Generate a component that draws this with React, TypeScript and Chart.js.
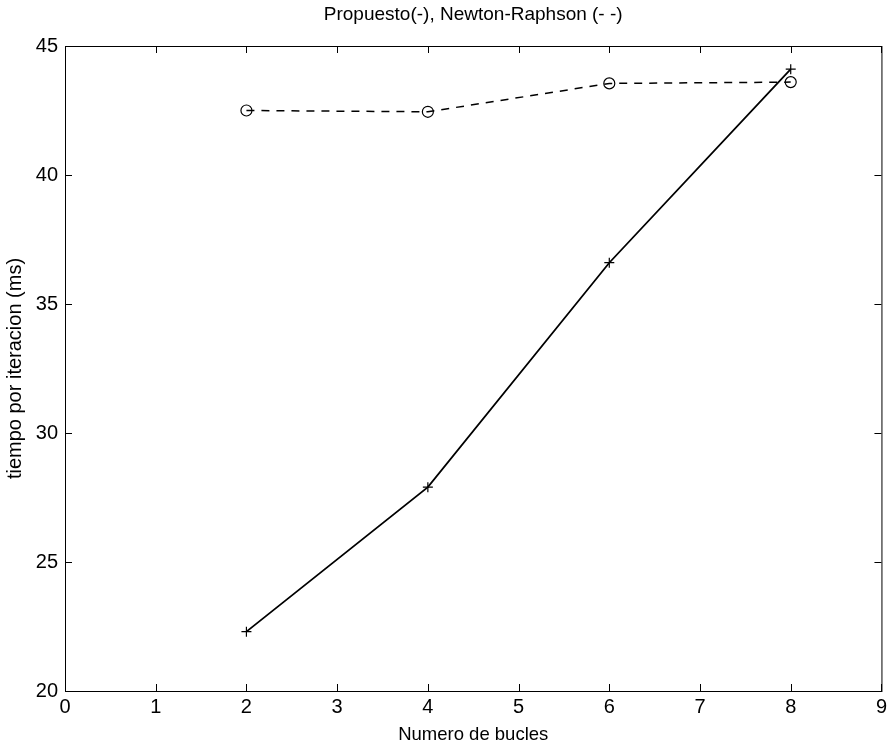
import React, { useEffect, useRef } from "react";
import { Chart, registerables } from "chart.js";

Chart.register(...registerables);

const bucles = [2, 4, 6, 8];
const propuesto = [22.3, 27.9, 36.6, 44.1];
const newtonRaphson = [42.5, 42.45, 43.55, 43.6];
const xTicks = [0, 1, 2, 3, 4, 5, 6, 7, 8, 9];
const yTicks = [20, 25, 30, 35, 40, 45];
const titleText = "Propuesto(-), Newton-Raphson (- -)";
const xLabel = "Numero de bucles";
const yLabel = "tiempo por iteracion (ms)";

const FONT = "'Liberation Sans', Arial, Helvetica, sans-serif";

const framePlugin = {
  id: "frame",
  afterDatasetsDraw(chart: any) {
    const { ctx, chartArea, scales } = chart;
    const { left, right, top, bottom } = chartArea;
    ctx.save();
    ctx.strokeStyle = "#000";
    ctx.lineWidth = 1;
    ctx.strokeRect(left + 0.5, top + 0.5, right - left, bottom - top);
    const len = 7;
    ctx.beginPath();
    xTicks.forEach((v) => {
      const px = Math.round(scales.x.getPixelForValue(v)) + 0.5;
      ctx.moveTo(px, bottom);
      ctx.lineTo(px, bottom - len);
      ctx.moveTo(px, top);
      ctx.lineTo(px, top + len);
    });
    yTicks.forEach((v) => {
      const py = Math.round(scales.y.getPixelForValue(v)) + 0.5;
      ctx.moveTo(left, py);
      ctx.lineTo(left + len, py);
      ctx.moveTo(right, py);
      ctx.lineTo(right - len, py);
    });
    ctx.stroke();
    ctx.fillStyle = "#000";
    ctx.font = `19px ${FONT}`;
    ctx.textAlign = "center";
    ctx.textBaseline = "middle";
    ctx.fillText(titleText, (left + right) / 2, 15);
    ctx.restore();
  },
};

export default function App() {
  const ref = useRef<HTMLCanvasElement>(null);
  useEffect(() => {
    if (!ref.current) return;
    const chart = new Chart(ref.current, {
      type: "line",
      data: {
        datasets: [
          {
            label: "Propuesto",
            data: bucles.map((x, i) => ({ x, y: propuesto[i] })),
            borderColor: "#000",
            borderWidth: 1.8,
            pointStyle: "cross",
            pointRadius: 5,
            pointBorderWidth: 1.2,
            pointBorderColor: "#000",
            backgroundColor: "rgba(0,0,0,0)",
            tension: 0,
          },
          {
            label: "Newton-Raphson",
            data: bucles.map((x, i) => ({ x, y: newtonRaphson[i] })),
            borderColor: "#000",
            borderWidth: 1.5,
            borderDash: [8, 7],
            pointStyle: "circle",
            pointRadius: 5.5,
            pointBorderWidth: 1.2,
            pointBorderColor: "#000",
            pointBackgroundColor: "rgba(0,0,0,0)",
            backgroundColor: "rgba(0,0,0,0)",
            tension: 0,
          },
        ],
      },
      options: {
        animation: false,
        responsive: false,
        maintainAspectRatio: false,
        layout: { padding: { top: 46, right: 7, left: 0, bottom: 0 } },
        plugins: {
          legend: { display: false },
          title: { display: false },
          tooltip: { enabled: false },
        },
        scales: {
          x: {
            type: "linear",
            min: 0,
            max: 9,
            border: { display: false },
            grid: { display: false, drawTicks: false },
            ticks: {
              stepSize: 1,
              padding: 4,
              color: "#000",
              font: { family: FONT, size: 20 },
              maxRotation: 0,
            },
            title: {
              display: true,
              text: xLabel,
              color: "#000",
              font: { family: FONT, size: 18.5 },
              padding: { top: 0, bottom: 5 },
            },
            afterFit: (s: any) => {
              s.height = 60;
            },
          },
          y: {
            type: "linear",
            min: 20,
            max: 45,
            border: { display: false },
            grid: { display: false, drawTicks: false },
            ticks: {
              stepSize: 5,
              padding: 7,
              color: "#000",
              font: { family: FONT, size: 20 },
            },
            title: {
              display: true,
              text: yLabel,
              color: "#000",
              font: { family: FONT, size: 20 },
              padding: { top: 3, bottom: 0 },
            },
            afterFit: (s: any) => {
              s.width = 65;
            },
          },
        },
      },
      plugins: [framePlugin],
    } as any);
    return () => chart.destroy();
  }, []);
  return (
    <div style={{ position: "absolute", left: 0, top: 0, width: 891, height: 751, background: "#fff" }}>
      <canvas ref={ref} width={891} height={751} style={{ width: 891, height: 751 }} />
    </div>
  );
}
